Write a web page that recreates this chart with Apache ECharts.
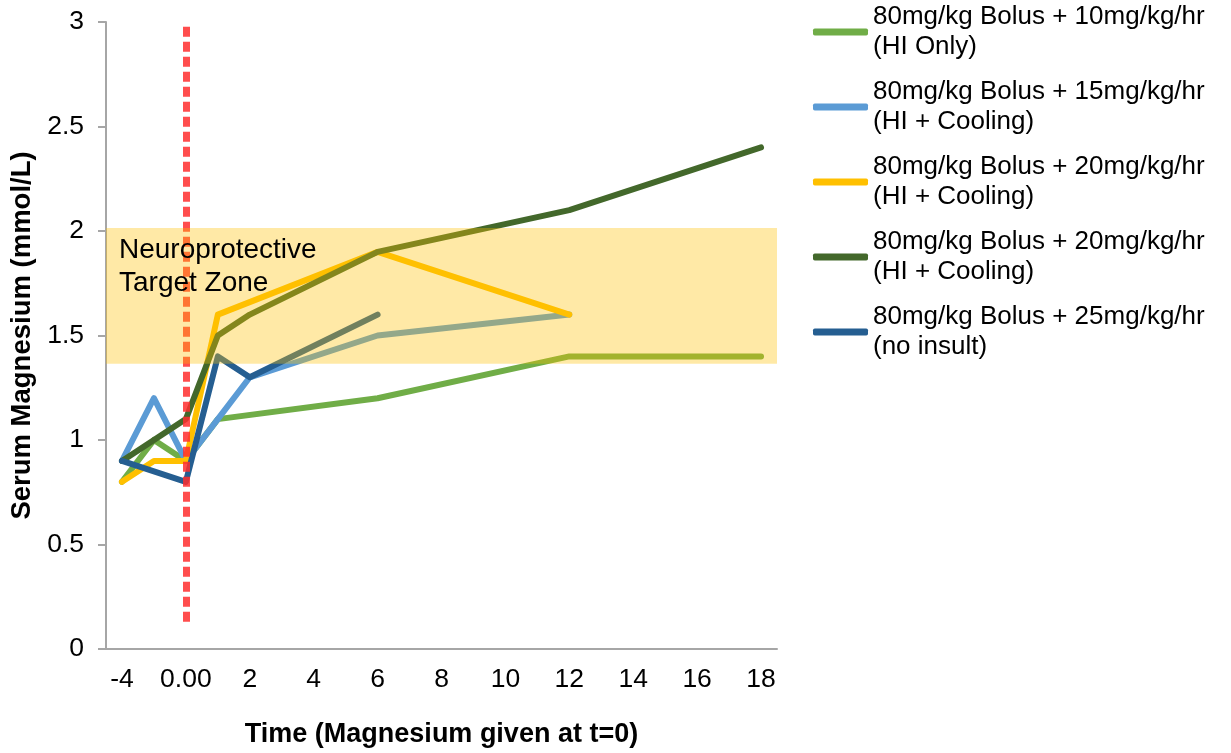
<!DOCTYPE html>
<html><head><meta charset="utf-8">
<script src="https://cdn.jsdelivr.net/npm/echarts@6/dist/echarts.min.js"></script>
<style>html,body{margin:0;padding:0;background:#fff;overflow:hidden}#c{width:1231px;height:753px}</style>
</head><body><div id="c"></div>
<script>
// x categories (hours); only every other label is shown
const categories = ['-4','-2','0.00','1','2','3','4','5','6','7','8','9','10','11','12','13','14','15','16','17','18'];
const seriesNames = [
  '80mg/kg Bolus + 10mg/kg/hr\n(HI Only)',
  '80mg/kg Bolus + 15mg/kg/hr\n(HI + Cooling)',
  '80mg/kg Bolus + 20mg/kg/hr\n(HI + Cooling)',
  '80mg/kg Bolus + 20mg/kg/hr\n(HI + Cooling) ',
  '80mg/kg Bolus + 25mg/kg/hr\n(no insult)'
];
const seriesColors = ['#70AD47','#5B9BD5','#FFC000','#43682B','#255E91'];
//                -4   -2   0    1    2    3    4    5    6    7    8    9    10   11   12   13   14   15   16   17   18
const mg10    = [0.8, 1.0, 0.9, 1.1, null,null,null,null,1.2, null,null,null,null,null,1.4, null,null,null,null,null,1.4];
const mg15    = [0.9, 1.2, 0.9, 1.1, 1.3, null,null,null,1.5, null,null,null,null,null,1.6, null,null,null,null,null,null];
const mg20a   = [0.8, 0.9, 0.9, 1.6, null,null,null,null,1.9, null,null,null,null,null,1.6, null,null,null,null,null,null];
const mg20b   = [0.9, 1.0, 1.1, 1.5, 1.6, null,null,null,1.9, null,null,null,null,null,2.1, null,null,null,null,null,2.4];
const mg25    = [0.9, null,0.8, 1.4, 1.3, null,null,null,1.6, null,null,null,null,null,null,null,null,null,null,null,null];
const seriesValues = [mg10, mg15, mg20a, mg20b, mg25];
// neuroprotective target zone (mmol/L) and dose time marker
const targetZone = [1.365, 2.014];
const zoneLabel = 'Neuroprotective\nTarget Zone';
const doseCategory = '0.00';
const doseLineRange = [0.13, 2.98];

const FONT = '"Liberation Sans", Arial, sans-serif';
const chart = echarts.init(document.getElementById('c'), null, {renderer: 'canvas'});

const lineSeries = seriesNames.map((n, i) => ({
  type: 'line', name: n, data: seriesValues[i], xAxisIndex: 0,
  connectNulls: true, symbol: 'none', showSymbol: false, z: 2,
  color: seriesColors[i],
  lineStyle: {width: 6, color: seriesColors[i], cap: 'round', join: 'round'}
}));

chart.setOption({
  animation: false,
  textStyle: {fontFamily: FONT},
  grid: {left: 105, right: 454, top: 22, bottom: 98},
  legend: {
    data: seriesNames, orient: 'vertical', left: 813, top: -13, padding: 0,
    itemGap: -15, itemWidth: 55, itemHeight: 7, icon: 'roundRect',
    textStyle: {fontFamily: FONT, fontSize: 26, lineHeight: 30, color: '#000', padding: [30, 0, 0, 0]}
  },
  xAxis: [{
    type: 'category', data: categories, boundaryGap: true,
    axisLine: {lineStyle: {color: '#A6A6A6', width: 2}},
    axisTick: {show: false},
    axisLabel: {interval: 1, fontFamily: FONT, fontSize: 26.5, color: '#000', margin: 17},
    name: 'Time (Magnesium given at t=0)', nameLocation: 'middle', nameGap: 72,
    nameTextStyle: {fontFamily: FONT, fontSize: 27, fontWeight: 'bold', color: '#000'}
  }, {
    type: 'value', min: 0, max: 1, show: false
  }],
  yAxis: {
    type: 'value', min: 0, max: 3, interval: 0.5,
    splitLine: {show: false},
    axisLine: {show: true, lineStyle: {color: '#A6A6A6', width: 2}},
    axisTick: {show: true, length: 8, lineStyle: {color: '#A6A6A6', width: 2}},
    axisLabel: {fontFamily: FONT, fontSize: 26.5, color: '#000', margin: 22},
    name: 'Serum Magnesium (mmol/L)', nameLocation: 'middle', nameRotate: 90, nameGap: 70,
    nameTextStyle: {fontFamily: FONT, fontSize: 27.5, fontWeight: 'bold', color: '#000'}
  },
  series: lineSeries.concat([
    {
      type: 'line', name: '_dose', data: [], xAxisIndex: 0, z: 3,
      markLine: {
        silent: true, symbol: 'none', z: 4, label: {show: false},
        lineStyle: {color: '#FF2E2E', width: 7, type: [10, 5], opacity: 0.85},
        data: [[{coord: [doseCategory, doseLineRange[0]]}, {coord: [doseCategory, doseLineRange[1]]}]]
      }
    },
    {
      type: 'line', name: '_zone', data: [], xAxisIndex: 1, z: 4,
      markArea: {
        silent: true, z: 10,
        itemStyle: {color: 'rgba(255,192,0,0.35)'},
        label: {show: true, position: 'insideTopLeft', distance: 6, offset: [7, 0],
          fontFamily: FONT, fontSize: 28, lineHeight: 33, color: '#000'},
        data: [[{xAxis: 0, yAxis: targetZone[0], name: zoneLabel}, {xAxis: 1, yAxis: targetZone[1]}]]
      }
    }
  ])
});
</script></body></html>
